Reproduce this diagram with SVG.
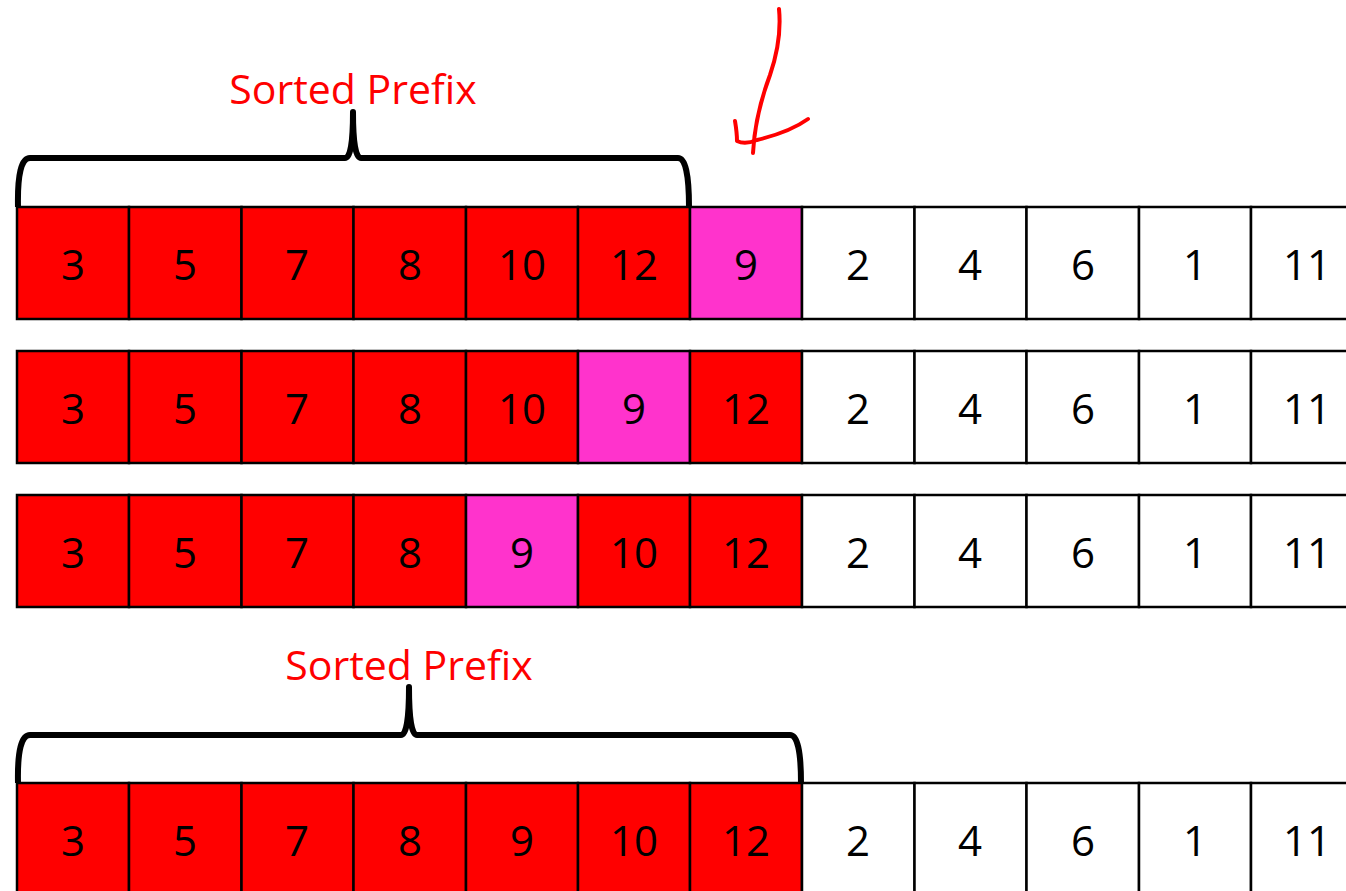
<svg xmlns="http://www.w3.org/2000/svg" width="1346" height="891" viewBox="0 0 1346 891">
<style>
.cell{stroke:#000;stroke-width:2.5}
.r{fill:#ff0000}.p{fill:#ff33cc}.w{fill:#ffffff}
.n{font-family:"Open Sans","Liberation Sans",sans-serif;font-size:42px;fill:#000;text-anchor:middle}
.lbl{font-family:"Open Sans","Liberation Sans",sans-serif;font-size:41px;fill:#ff0000;text-anchor:middle}
.brace{fill:none;stroke:#000;stroke-width:6;stroke-linejoin:round}
.hand{fill:none;stroke:#ff0000;stroke-width:4;stroke-linecap:round;stroke-linejoin:round}
</style>
<rect width="1346" height="891" fill="#fff"/>
<g id="row1">
<rect class="cell r" x="17" y="207" width="112" height="112"/><text class="n" x="73" y="280">3</text>
<rect class="cell r" x="129" y="207" width="112.5" height="112"/><text class="n" x="185" y="280">5</text>
<rect class="cell r" x="241.5" y="207" width="112" height="112"/><text class="n" x="297" y="280">7</text>
<rect class="cell r" x="353.5" y="207" width="112.5" height="112"/><text class="n" x="410" y="280">8</text>
<rect class="cell r" x="466" y="207" width="112" height="112"/><text class="n" x="522" y="280">10</text>
<rect class="cell r" x="578" y="207" width="112" height="112"/><text class="n" x="634" y="280">12</text>
<rect class="cell p" x="690" y="207" width="112" height="112"/><text class="n" x="746" y="280">9</text>
<rect class="cell w" x="802" y="207" width="112.5" height="112"/><text class="n" x="858" y="280">2</text>
<rect class="cell w" x="914.5" y="207" width="112" height="112"/><text class="n" x="970" y="280">4</text>
<rect class="cell w" x="1026.5" y="207" width="112.5" height="112"/><text class="n" x="1083" y="280">6</text>
<rect class="cell w" x="1139" y="207" width="112" height="112"/><text class="n" x="1195" y="280">1</text>
<rect class="cell w" x="1251" y="207" width="112" height="112"/><text class="n" x="1307" y="280">11</text>
</g>
<g id="row2">
<rect class="cell r" x="17" y="351" width="112" height="112"/><text class="n" x="73" y="424">3</text>
<rect class="cell r" x="129" y="351" width="112.5" height="112"/><text class="n" x="185" y="424">5</text>
<rect class="cell r" x="241.5" y="351" width="112" height="112"/><text class="n" x="297" y="424">7</text>
<rect class="cell r" x="353.5" y="351" width="112.5" height="112"/><text class="n" x="410" y="424">8</text>
<rect class="cell r" x="466" y="351" width="112" height="112"/><text class="n" x="522" y="424">10</text>
<rect class="cell p" x="578" y="351" width="112" height="112"/><text class="n" x="634" y="424">9</text>
<rect class="cell r" x="690" y="351" width="112" height="112"/><text class="n" x="746" y="424">12</text>
<rect class="cell w" x="802" y="351" width="112.5" height="112"/><text class="n" x="858" y="424">2</text>
<rect class="cell w" x="914.5" y="351" width="112" height="112"/><text class="n" x="970" y="424">4</text>
<rect class="cell w" x="1026.5" y="351" width="112.5" height="112"/><text class="n" x="1083" y="424">6</text>
<rect class="cell w" x="1139" y="351" width="112" height="112"/><text class="n" x="1195" y="424">1</text>
<rect class="cell w" x="1251" y="351" width="112" height="112"/><text class="n" x="1307" y="424">11</text>
</g>
<g id="row3">
<rect class="cell r" x="17" y="495" width="112" height="112"/><text class="n" x="73" y="568">3</text>
<rect class="cell r" x="129" y="495" width="112.5" height="112"/><text class="n" x="185" y="568">5</text>
<rect class="cell r" x="241.5" y="495" width="112" height="112"/><text class="n" x="297" y="568">7</text>
<rect class="cell r" x="353.5" y="495" width="112.5" height="112"/><text class="n" x="410" y="568">8</text>
<rect class="cell p" x="466" y="495" width="112" height="112"/><text class="n" x="522" y="568">9</text>
<rect class="cell r" x="578" y="495" width="112" height="112"/><text class="n" x="634" y="568">10</text>
<rect class="cell r" x="690" y="495" width="112" height="112"/><text class="n" x="746" y="568">12</text>
<rect class="cell w" x="802" y="495" width="112.5" height="112"/><text class="n" x="858" y="568">2</text>
<rect class="cell w" x="914.5" y="495" width="112" height="112"/><text class="n" x="970" y="568">4</text>
<rect class="cell w" x="1026.5" y="495" width="112.5" height="112"/><text class="n" x="1083" y="568">6</text>
<rect class="cell w" x="1139" y="495" width="112" height="112"/><text class="n" x="1195" y="568">1</text>
<rect class="cell w" x="1251" y="495" width="112" height="112"/><text class="n" x="1307" y="568">11</text>
</g>
<g id="row4">
<rect class="cell r" x="17" y="783" width="112" height="112"/><text class="n" x="73" y="856">3</text>
<rect class="cell r" x="129" y="783" width="112.5" height="112"/><text class="n" x="185" y="856">5</text>
<rect class="cell r" x="241.5" y="783" width="112" height="112"/><text class="n" x="297" y="856">7</text>
<rect class="cell r" x="353.5" y="783" width="112.5" height="112"/><text class="n" x="410" y="856">8</text>
<rect class="cell r" x="466" y="783" width="112" height="112"/><text class="n" x="522" y="856">9</text>
<rect class="cell r" x="578" y="783" width="112" height="112"/><text class="n" x="634" y="856">10</text>
<rect class="cell r" x="690" y="783" width="112" height="112"/><text class="n" x="746" y="856">12</text>
<rect class="cell w" x="802" y="783" width="112.5" height="112"/><text class="n" x="858" y="856">2</text>
<rect class="cell w" x="914.5" y="783" width="112" height="112"/><text class="n" x="970" y="856">4</text>
<rect class="cell w" x="1026.5" y="783" width="112.5" height="112"/><text class="n" x="1083" y="856">6</text>
<rect class="cell w" x="1139" y="783" width="112" height="112"/><text class="n" x="1195" y="856">1</text>
<rect class="cell w" x="1251" y="783" width="112" height="112"/><text class="n" x="1307" y="856">11</text>
</g>
<g id="brace1">
<path class="brace" d="M18 207 Q17 158 30 158 L345 158 Q353 158 353 112 Q353 158 361 158 L678 158 Q689 158 689 207"/>
<text class="lbl" x="353" y="104">Sorted Prefix</text>
</g>
<g id="brace2">
<path class="brace" d="M18 783 Q17 735 30 735 L401 735 Q409 735 409 687 Q409 735 417 735 L790 735 Q801 735 801 783"/>
<text class="lbl" x="409" y="680">Sorted Prefix</text>
</g>
<g id="arrow">
<path class="hand" d="M779 9 Q782 40 770 75 Q755 115 753 153"/>
<path class="hand" d="M735 121 Q737 133 737 141 Q745 145 757 140 Q790 132 808 119"/>
</g>
</svg>
